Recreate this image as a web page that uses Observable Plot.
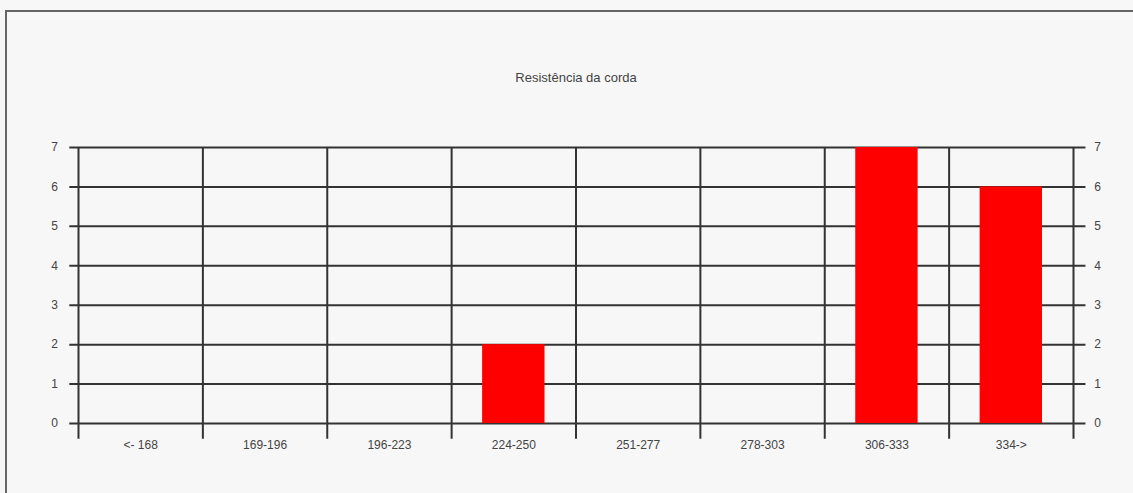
<!DOCTYPE html>
<html>
<head>
<meta charset="utf-8">
<script src="https://cdn.jsdelivr.net/npm/d3@7"></script>
<script src="https://cdn.jsdelivr.net/npm/@observablehq/plot@0.6"></script>
<style>
  html, body { margin: 0; padding: 0; background: #f7f7f7; }
  #wrap { position: relative; width: 1133px; height: 493px; overflow: hidden; }
  #chart { position: absolute; left: 0; top: 0; }
  #frame { position: absolute; left: 5px; top: 10px; width: 1200px; height: 600px;
           border-left: 2px solid #666; border-top: 2px solid #666; pointer-events: none; }
</style>
</head>
<body>
<div id="wrap"><div id="chart"></div><div id="frame"></div></div>
<script>
const title = "Resistência da corda";
const categories = ["<- 168", "169-196", "196-223", "224-250", "251-277", "278-303", "306-333", "334->"];
const counts = [0, 0, 0, 2, 0, 0, 7, 6];
const yTicks = [0, 1, 2, 3, 4, 5, 6, 7];

const data = categories.map((c, i) => ({cat: c, i, value: counts[i]}));
const bounds = d3.range(0, categories.length + 1);

const plot = Plot.plot({
  width: 1133,
  height: 493,
  marginLeft: 78,
  marginRight: 60,
  marginTop: 147,
  marginBottom: 70,
  style: {background: "transparent", fontFamily: "Liberation Sans, Arial, sans-serif"},
  x: {domain: [0, categories.length], axis: null},
  y: {domain: [0, 7], axis: null},
  marks: [
    // horizontal grid lines (extended a bit as ticks on both sides)
    Plot.ruleY(yTicks, {x1: -0.07, x2: categories.length + 0.1, stroke: "#333", strokeWidth: 2, clip: false}),
    // vertical category dividers
    Plot.ruleX(bounds, {y1: -0.4, y2: 7, stroke: "#333", strokeWidth: 2}),
    // bars
    Plot.rectY(data.filter(d => d.value > 0), {x1: "i", x2: d => d.i + 1, y: "value", fill: "#ff0000", insetLeft: 31, insetRight: 31}),
    // left tick labels
    Plot.text(yTicks, {x: 0, y: d => d, text: d => String(d), dx: -24, textAnchor: "middle", fontSize: 12, fill: "#444"}),
    // right tick labels
    Plot.text(yTicks, {x: categories.length, y: d => d, text: d => String(d), dx: 24, textAnchor: "middle", fontSize: 12, fill: "#444"}),
    // category labels
    Plot.text(data, {x: d => d.i + 0.5, y: 0, text: "cat", dy: 22, fontSize: 12, fill: "#444"}),
    // title
    Plot.text([title], {frameAnchor: "top", dy: -75, text: d => d, fontSize: 13, fill: "#444"})
  ]
});
document.getElementById("chart").appendChild(plot);
</script>
</body>
</html>
